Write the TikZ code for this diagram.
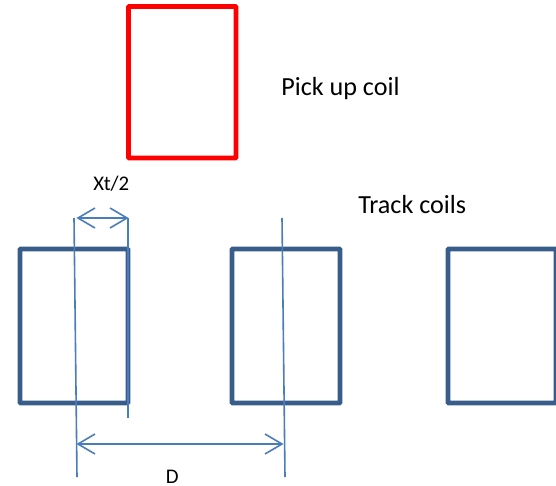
\documentclass[tikz,border=0pt]{standalone}
\usepackage{fontspec}
\setmainfont{Carlito}
\usetikzlibrary{calc}
\definecolor{trackblue}{HTML}{385D8A}
\definecolor{lineblue}{HTML}{4A7EBB}
\tikzset{
 pickbox/.style={draw=red,line width=3.4pt,rounded corners=0.5pt},
 trackbox/.style={draw=trackblue,line width=3.4pt,rounded corners=0.5pt},
 thinline/.style={draw=lineblue,line width=1.2pt},
 barb/.style={draw=lineblue,line width=1.2pt,line join=miter},
 lab/.style={inner sep=0pt,anchor=base west,text=black},
 big/.style={font=\fontsize{19.6pt}{22pt}\selectfont},
 small/.style={font=\fontsize{15.6pt}{18pt}\selectfont}
}
\begin{document}
\begin{tikzpicture}[x=0.75pt,y=-0.75pt]
\useasboundingbox (0,0) rectangle (556,485);
\draw[pickbox] (128.5,6.5) rectangle (236,158);
\draw[trackbox] (20,249) rectangle (128,403);
\draw[trackbox] (232,249) rectangle (340,403);
\draw[trackbox] (448,249) rectangle (556,403);
\coordinate (a1) at (74,218); \coordinate (a2) at (77,477);
\coordinate (b1) at (128,218); \coordinate (b2) at (128,418);
\coordinate (c1) at (282,218); \coordinate (c2) at (285,477);
\draw[thinline] (a1) -- (a2);
\draw[thinline] (b1) -- (b2);
\draw[thinline] (c1) -- (c2);
\coordinate (d1) at (78,218); \coordinate (d2) at (127,218);
\coordinate (e1) at (78,444); \coordinate (e2) at (282,444);
\draw[thinline] (d1) -- (d2);
\draw[thinline] (e1) -- (e2);
\draw[barb] ($(d1)+(17,-10)$) -- (d1) -- ($(d1)+(17,10)$);
\draw[barb] ($(d2)+(-17,-10)$) -- (d2) -- ($(d2)+(-17,10)$);
\draw[barb] ($(e1)+(17,-10)$) -- (e1) -- ($(e1)+(17,10)$);
\draw[barb] ($(e2)+(-17,-10)$) -- (e2) -- ($(e2)+(-17,10)$);
\node[lab,big] (t1) at (281,95.5) {Pick up coil};
\node[lab,big] (t2) at (358,213) {Track coils};
\node[lab,small] (t3) at (93,190) {Xt/2};
\node[lab,small] (t4) at (165.5,483) {D};
\end{tikzpicture}
\end{document}
